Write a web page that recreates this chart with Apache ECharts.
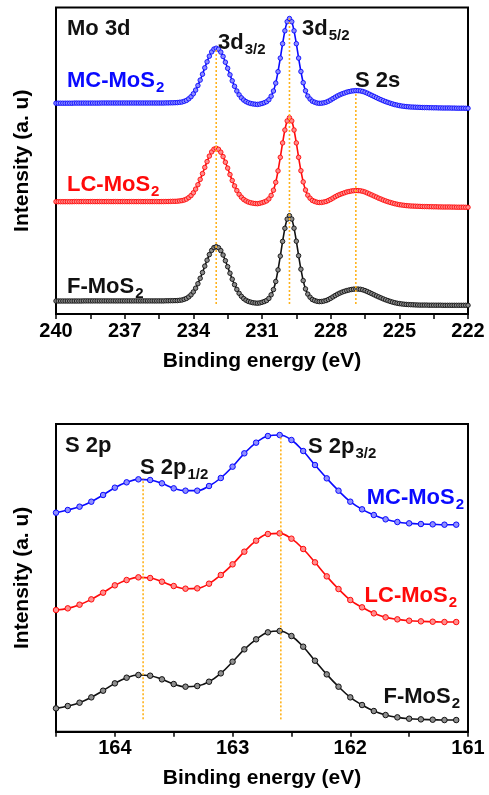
<!DOCTYPE html>
<html>
<head>
<meta charset="utf-8">
<script src="https://cdn.jsdelivr.net/npm/echarts@6/dist/echarts.min.js"></script>
<style>
html,body{margin:0;padding:0;background:#fff;}
#chart{width:489px;height:795px;}
</style>
</head>
<body>
<div id="chart"></div>
<script>
// ---------- Mo 3d panel (top) ----------
const moEnergy = [
240.0,239.9,239.8,239.7,239.6,239.5,239.4,239.3,239.2,239.1,
239.0,238.9,238.8,238.7,238.6,238.5,238.4,238.3,238.2,238.1,
238.0,237.9,237.8,237.7,237.6,237.5,237.4,237.3,237.2,237.1,
237.0,236.9,236.8,236.7,236.6,236.5,236.4,236.3,236.2,236.1,
236.0,235.9,235.8,235.7,235.6,235.5,235.4,235.3,235.2,235.1,
235.0,234.9,234.8,234.7,234.6,234.5,234.4,234.3,234.2,234.1,
234.0,233.9,233.8,233.7,233.6,233.5,233.4,233.3,233.2,233.1,
233.0,232.9,232.8,232.7,232.6,232.5,232.4,232.3,232.2,232.1,
232.0,231.9,231.8,231.7,231.6,231.5,231.4,231.3,231.2,231.1,
231.0,230.9,230.8,230.7,230.6,230.5,230.4,230.3,230.2,230.1,
230.0,229.9,229.8,229.7,229.6,229.5,229.4,229.3,229.2,229.1,
229.0,228.9,228.8,228.7,228.6,228.5,228.4,228.3,228.2,228.1,
228.0,227.9,227.8,227.7,227.6,227.5,227.4,227.3,227.2,227.1,
227.0,226.9,226.8,226.7,226.6,226.5,226.4,226.3,226.2,226.1,
226.0,225.9,225.8,225.7,225.6,225.5,225.4,225.3,225.2,225.1,
225.0,224.9,224.8,224.7,224.6,224.5,224.4,224.3,224.2,224.1,
224.0,223.9,223.8,223.7,223.6,223.5,223.4,223.3,223.2,223.1,
223.0,222.9,222.8,222.7,222.6,222.5,222.4,222.3,222.2,222.1,
222.0];
const moMC = [
210.8,210.8,210.8,210.8,210.8,210.8,210.8,210.8,210.9,210.9,
210.9,210.9,210.9,210.9,210.9,210.9,210.9,210.9,210.9,210.9,
211.0,211.0,211.0,211.0,211.0,211.0,211.0,211.0,211.0,211.0,
211.0,211.0,211.0,211.0,211.0,211.0,211.0,211.0,211.0,211.0,
211.0,211.0,211.0,211.0,211.0,211.0,211.0,211.0,211.1,211.1,
211.2,211.2,211.3,211.4,211.7,212.0,212.7,213.6,215.2,217.3,
220.2,223.9,228.5,233.9,239.8,246.2,252.2,257.8,262.1,264.9,
265.8,264.8,261.9,257.5,251.8,245.7,239.2,233.2,227.7,223.0,
219.2,216.2,214.0,212.4,211.3,210.6,210.1,209.8,209.6,209.9,
210.5,211.3,212.3,214.3,217.8,223.0,230.9,242.3,255.9,270.3,
283.2,292.3,295.5,292.3,283.2,270.3,255.9,242.5,231.3,223.2,
218.0,215.0,212.8,211.8,211.0,210.7,210.8,211.2,211.8,212.8,
214.0,215.4,216.8,218.1,219.2,220.2,221.0,221.8,222.4,222.9,
223.2,223.4,223.3,223.1,222.6,221.8,220.8,219.7,218.6,217.5,
216.4,215.3,214.3,213.3,212.4,211.6,210.8,210.1,209.4,208.9,
208.4,208.0,207.7,207.4,207.2,207.0,206.9,206.8,206.7,206.6,
206.5,206.4,206.4,206.3,206.3,206.2,206.2,206.1,206.1,206.0,
206.0,206.0,206.0,205.9,205.9,205.8,205.8,205.8,205.8,205.7,
205.7];
const moLC = [
112.3,112.3,112.3,112.3,112.3,112.3,112.3,112.3,112.4,112.4,
112.4,112.4,112.4,112.4,112.4,112.4,112.4,112.4,112.4,112.4,
112.4,112.4,112.4,112.4,112.4,112.4,112.4,112.4,112.4,112.4,
112.4,112.4,112.4,112.4,112.4,112.4,112.4,112.4,112.4,112.4,
112.4,112.4,112.4,112.4,112.4,112.4,112.4,112.4,112.5,112.5,
112.6,112.7,112.7,112.8,113.1,113.4,114.0,114.9,116.4,118.4,
121.2,124.9,129.3,134.6,140.4,146.6,152.4,157.9,162.1,164.8,
165.7,164.7,161.8,157.4,151.8,145.9,139.4,133.5,128.1,123.5,
119.7,116.8,114.6,113.1,112.0,111.3,110.8,110.5,110.3,110.7,
111.3,112.1,113.1,115.1,118.6,123.8,131.7,143.1,156.7,171.1,
184.0,193.1,196.3,193.1,184.0,171.1,156.7,143.3,132.1,124.0,
118.8,115.8,113.6,112.6,111.8,111.5,111.6,112.0,112.5,113.5,
114.6,115.9,117.3,118.5,119.5,120.4,121.2,122.0,122.5,123.0,
123.3,123.5,123.4,123.2,122.7,122.0,121.0,120.0,119.0,117.9,
116.9,115.8,114.9,113.9,113.1,112.3,111.6,110.9,110.3,109.8,
109.3,109.0,108.7,108.4,108.2,108.0,107.9,107.8,107.7,107.6,
107.5,107.4,107.4,107.3,107.3,107.2,107.2,107.1,107.1,107.0,
107.0,107.0,107.0,106.9,106.9,106.8,106.8,106.8,106.8,106.7,
106.7];
const moF = [
13.0,13.0,13.0,13.0,13.0,13.0,13.0,13.0,13.0,13.0,
13.0,13.0,13.1,13.1,13.1,13.1,13.1,13.1,13.1,13.1,
13.1,13.1,13.1,13.1,13.1,13.1,13.1,13.1,13.1,13.1,
13.1,13.1,13.1,13.1,13.1,13.1,13.1,13.1,13.1,13.1,
13.1,13.1,13.1,13.1,13.1,13.1,13.1,13.1,13.2,13.2,
13.3,13.3,13.4,13.4,13.7,14.0,14.7,15.6,17.1,19.2,
22.1,25.8,30.3,35.7,41.5,47.9,53.8,59.4,63.6,66.4,
67.3,66.3,63.4,59.0,53.3,47.3,40.8,34.8,29.3,24.6,
20.7,17.7,15.4,13.8,12.6,11.9,11.3,11.0,10.8,11.1,
11.7,12.5,13.5,15.6,19.2,24.4,32.5,44.1,57.9,72.6,
85.7,94.9,98.3,95.0,85.8,72.8,58.3,44.8,33.4,25.1,
19.9,16.8,14.5,13.5,12.7,12.4,12.5,12.9,13.5,14.5,
15.7,17.1,18.5,19.8,20.9,21.9,22.7,23.4,24.0,24.5,
24.8,25.0,24.9,24.7,24.2,23.4,22.4,21.4,20.3,19.2,
18.1,17.1,16.1,15.1,14.2,13.4,12.6,11.9,11.3,10.8,
10.4,10.1,9.8,9.6,9.4,9.3,9.2,9.1,9.0,8.9,
8.9,8.9,8.9,8.8,8.8,8.8,8.8,8.8,8.8,8.7,
8.7,8.7,8.7,8.7,8.7,8.7,8.7,8.7,8.7,8.7,
8.7];
const moPeakPos = [233.0, 229.8, 226.9];
const moPeakTop = [265.8, 295.5, 221.0];
const moPeakBottom = 10;
const moTicks = [240, 237, 234, 231, 228, 225, 222];

// ---------- S 2p panel (bottom) ----------
const sEnergy = [164.5,164.4,164.3,164.2,164.1,164.0,163.9,163.8,163.7,163.6,163.5,163.4,163.3,163.2,163.1,163.0,162.9,162.8,162.7,162.6,162.5,162.4,162.3,162.2,162.1,162.0,161.9,161.8,161.7,161.6,161.5,161.4,161.3,161.2,161.1];
const sMC = [657,665,675,690,710,732,748,757,755,745,730,723,723,737,761,795,835,867,887,890,875,842,800,760,723,690,667,650,637,629,625,623,622,621,621];
const sLC = [365,370,381,397,417,439,455,463,461,450,437,429,430,444,470,502,540,573,593,595,579,548,508,466,428,395,373,355,343,337,333,331,330,329,329];
const sF = [70,77,87,103,123,145,162,170,168,157,143,135,137,150,175,210,247,277,298,302,287,255,213,172,135,103,80,62,50,43,39,37,36,35,35];
const sPeakPos = [163.76, 162.59];
const sPeakTop = [760, 885];
const sPeakBottom = 37;
const sTicks = [164, 163, 162, 161];

const FONT = '"Liberation Sans", Arial, sans-serif';
const BLUE = '#0a0aff', RED = '#ff0a0a', BLACK = '#111111', ORANGE = '#ffb21a';

function pairs(xs, ys) { return xs.map((x, i) => [x, ys[i]]); }

function specSeries(xs, ys, color, fill, idx, size, smooth, bw) {
  return {
    type: 'line', xAxisIndex: idx, yAxisIndex: idx,
    data: pairs(xs, ys), smooth: smooth, showAllSymbol: true,
    symbol: 'circle', symbolSize: size,
    lineStyle: { color: color, width: 1.6 },
    itemStyle: { color: fill, borderColor: color, borderWidth: bw },
    z: 3, silent: true, animation: false
  };
}
function peakLine(x, y0, y1, idx) {
  return {
    type: 'line', xAxisIndex: idx, yAxisIndex: idx,
    data: [[x, y0], [x, y1]], symbol: 'none',
    lineStyle: { color: ORANGE, width: 1.6, type: [2, 2] },
    z: 4, silent: true, animation: false
  };
}

const series = [
  specSeries(moEnergy, moMC, BLUE, '#8c8cff', 0, 4.5, 0.3, 0.9),
  specSeries(moEnergy, moLC, RED, '#ff8c8c', 0, 4.5, 0.3, 0.9),
  specSeries(moEnergy, moF, BLACK, '#8c8c8c', 0, 4.5, 0.3, 0.9),
  specSeries(sEnergy, sMC, BLUE, '#8f8fff', 1, 5.5, 0.4, 1),
  specSeries(sEnergy, sLC, RED, '#ff8f8f', 1, 5.5, 0.4, 1),
  specSeries(sEnergy, sF, BLACK, '#8f8f8f', 1, 5.5, 0.4, 1)
];
moPeakPos.forEach((p, i) => series.push(peakLine(p, moPeakBottom, moPeakTop[i], 0)));
sPeakPos.forEach((p, i) => series.push(peakLine(p, sPeakBottom, sPeakTop[i], 1)));

function xAx(idx, min, max, interval, gap, ticks) {
  return {
    gridIndex: idx, type: 'value', min: min, max: max, interval: interval, inverse: true,
    name: 'Binding energy (eV)', nameLocation: 'middle', nameGap: gap,
    nameTextStyle: { fontFamily: FONT, fontWeight: 'bold', fontSize: 21, color: '#000' },
    axisLine: { show: true, onZero: false, lineStyle: { color: '#000', width: 2 } },
    axisTick: { show: true, inside: false, length: 5, lineStyle: { color: '#000', width: 1.5 } },
    minorTick: { show: true, splitNumber: 2, length: 5, lineStyle: { color: '#000', width: 1.5 } },
    axisLabel: { show: true, margin: 7, fontFamily: FONT, fontWeight: 'bold', fontSize: 20, color: '#000',
                 showMinLabel: true, showMaxLabel: true,
                 formatter: v => (ticks.indexOf(v) >= 0 ? String(v) : '') },
    splitLine: { show: false }
  };
}
function yAx(idx, max) {
  return {
    gridIndex: idx, type: 'value', min: 0, max: max,
    name: 'Intensity (a. u)', nameLocation: 'middle', nameGap: 23,
    nameTextStyle: { fontFamily: FONT, fontWeight: 'bold', fontSize: 21, color: '#000' },
    axisLine: { show: false }, axisTick: { show: false }, axisLabel: { show: false },
    splitLine: { show: false }
  };
}

function rich(color) {
  return {
    b: { fontFamily: FONT, fontWeight: 'bold', fontSize: 22, lineHeight: 22, fill: color },
    s: { fontFamily: FONT, fontWeight: 'bold', fontSize: 15, lineHeight: 15, padding: [13, 0, 0, 1], fill: color }
  };
}
function label(text, x, y, color, align) {
  return {
    type: 'text', x: x, y: y, z: 10, silent: true,
    style: {
      text: text, rich: rich(color), fill: color,
      font: 'bold 22px ' + FONT,
      align: align || 'left', verticalAlign: 'middle'
    }
  };
}

const graphics = [
  label('{b|Mo 3d}', 67, 29, BLACK),
  label('{b|3d}{s|3/2}', 218, 43, BLACK),
  label('{b|3d}{s|5/2}', 302, 29, BLACK),
  label('{b|S 2s}', 355, 81, BLACK),
  label('{b|MC-MoS}{s|2}', 67, 81, BLUE),
  label('{b|LC-MoS}{s|2}', 67, 185, RED),
  label('{b|F-MoS}{s|2}', 67, 287, BLACK),
  label('{b|S 2p}', 65, 446, BLACK),
  label('{b|S 2p}{s|1/2}', 140, 468, BLACK),
  label('{b|S 2p}{s|3/2}', 308, 447, BLACK),
  label('{b|MC-MoS}{s|2}', 464, 498, BLUE, 'right'),
  label('{b|LC-MoS}{s|2}', 457, 596, RED, 'right'),
  label('{b|F-MoS}{s|2}', 460, 697, BLACK, 'right')
];

const chart = echarts.init(document.getElementById('chart'), null, { renderer: 'canvas' });
chart.setOption({
  animation: false,
  backgroundColor: '#fff',
  grid: [
    { left: 56, right: 21, top: 7.5, bottom: 481, show: true, borderColor: '#000', borderWidth: 2, backgroundColor: 'transparent' },
    { left: 56, right: 21, top: 424, bottom: 63.3, show: true, borderColor: '#000', borderWidth: 2, backgroundColor: 'transparent' }
  ],
  xAxis: [xAx(0, 222, 240, 3, 37, moTicks), xAx(1, 161, 164.5, 1, 36, sTicks)],
  yAxis: [yAx(0, 306.5), yAx(1, 923)],
  series: series,
  graphic: graphics
});
</script>
</body>
</html>
